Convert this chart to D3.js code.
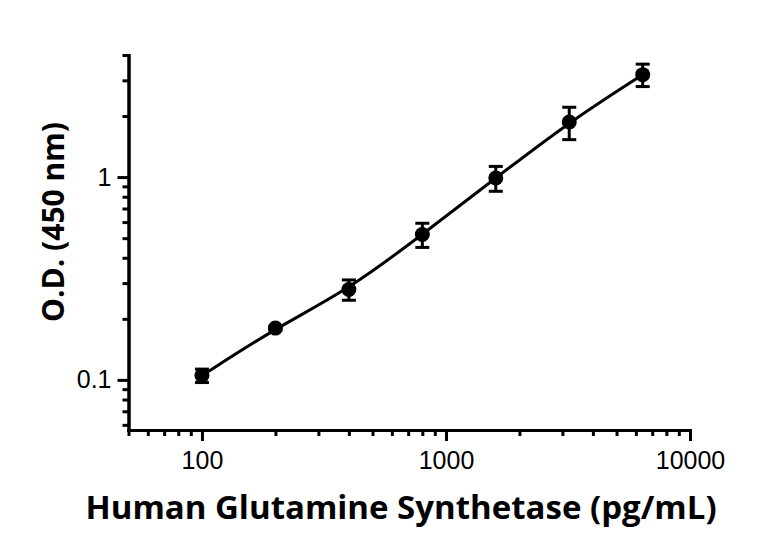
<!DOCTYPE html>
<html lang="en">
<head>
    <meta charset="UTF-8">
    <title>Human Glutamine Synthetase standard curve</title>
    <script src="https://d3js.org/d3.v7.min.js"></script>
    <style>
        body { margin: 0; background: #fff; }
        .axis path, .axis line {
            stroke: #000;
            stroke-width: 3;
            fill: none;
        }
        .title {
            font-family: "Open Sans", sans-serif;
            font-weight: bold;
            fill: #000;
        }
    </style>
</head>
<body>
    <svg width="768" height="543"></svg>
    <script>
        // data
        const conc = [100, 200, 400, 800, 1600, 3200, 6400];        // pg/mL
        const od   = [0.105, 0.180, 0.279, 0.521, 0.99, 1.87, 3.2];  // O.D. 450 nm
        const sd   = [0.008, 0.004, 0.032, 0.071, 0.139, 0.34, 0.405];

        const xMajor = [100, 1000, 10000];
        const xMinor = [50, 60, 70, 80, 90, 200, 300, 400, 500, 600, 700, 800, 900,
                        2000, 3000, 4000, 5000, 6000, 7000, 8000, 9000];
        const yMajor = [0.1, 1];
        const yMinor = [0.06, 0.07, 0.08, 0.09, 0.2, 0.3, 0.4, 0.5, 0.6, 0.7, 0.8, 0.9, 2, 3, 4];

        const data = conc.map((c, i) => ({ c: c, od: od[i], sd: sd[i] }));

        const svg = d3.select("svg");

        const x = d3.scaleLog().domain([50, 10000]).range([128.5, 690]);
        const y = d3.scaleLog().domain([0.0566, 4]).range([430, 55]);

        // minor ticks first (no labels)
        svg.append("g")
            .attr("class", "axis")
            .attr("transform", "translate(0,430)")
            .call(d3.axisBottom(x).tickValues(xMinor).tickSize(6).tickSizeOuter(0).tickFormat(""));
        svg.append("g")
            .attr("class", "axis")
            .attr("transform", "translate(128.5,0)")
            .call(d3.axisLeft(y).tickValues(yMinor).tickSize(6).tickSizeOuter(0).tickFormat(""));

        // major ticks with labels
        svg.append("g")
            .attr("class", "axis")
            .attr("transform", "translate(0,430)")
            .call(d3.axisBottom(x).tickValues(xMajor).tickSize(11).tickSizeOuter(0).tickPadding(10)
                .tickFormat(d3.format("d")));
        svg.append("g")
            .attr("class", "axis")
            .attr("transform", "translate(128.5,0)")
            .call(d3.axisLeft(y).tickValues(yMajor).tickSize(11).tickSizeOuter(0).tickPadding(6)
                .tickFormat(d => d < 1 ? "0.1" : "1"));
        svg.selectAll(".axis .domain").attr("stroke-linecap", "square");
        svg.selectAll(".axis")
            .attr("font-family", "'Liberation Sans', Arial, sans-serif")
            .attr("font-size", 25);
        svg.selectAll(".axis text")
            .style("font-family", "'Liberation Sans', Arial, sans-serif")
            .style("font-size", "25px")
            .attr("fill", "#000");

        // fitted curve through the means
        const line = d3.line()
            .x(d => x(d.c))
            .y(d => y(d.od))
            .curve(d3.curveBasis);
        svg.append("path")
            .datum(data)
            .attr("d", line)
            .attr("fill", "none")
            .attr("stroke", "#000")
            .attr("stroke-width", 3);

        // error bars
        const capW = 7;
        const eb = svg.append("g").attr("stroke", "#000").attr("stroke-width", 3);
        data.forEach(d => {
            const cx = x(d.c), y1 = y(d.od + d.sd), y2 = y(d.od - d.sd);
            eb.append("line").attr("x1", cx).attr("x2", cx).attr("y1", y1).attr("y2", y2);
            eb.append("line").attr("x1", cx - capW).attr("x2", cx + capW).attr("y1", y1).attr("y2", y1);
            eb.append("line").attr("x1", cx - capW).attr("x2", cx + capW).attr("y1", y2).attr("y2", y2);
        });

        // points
        svg.append("g")
            .selectAll("circle")
            .data(data)
            .enter().append("circle")
            .attr("cx", d => x(d.c))
            .attr("cy", d => y(d.od))
            .attr("r", 7.5)
            .attr("fill", "#000");

        // axis titles
        svg.append("text")
            .attr("class", "title")
            .attr("x", 401)
            .attr("y", 519)
            .attr("text-anchor", "middle")
            .style("font-size", "33px")
            .text("Human Glutamine Synthetase (pg/mL)");

        svg.append("text")
            .attr("class", "title")
            .attr("transform", "translate(64,222) rotate(-90)")
            .attr("text-anchor", "middle")
            .style("font-size", "30px")
            .text("O.D. (450 nm)");
    </script>
</body>
</html>
